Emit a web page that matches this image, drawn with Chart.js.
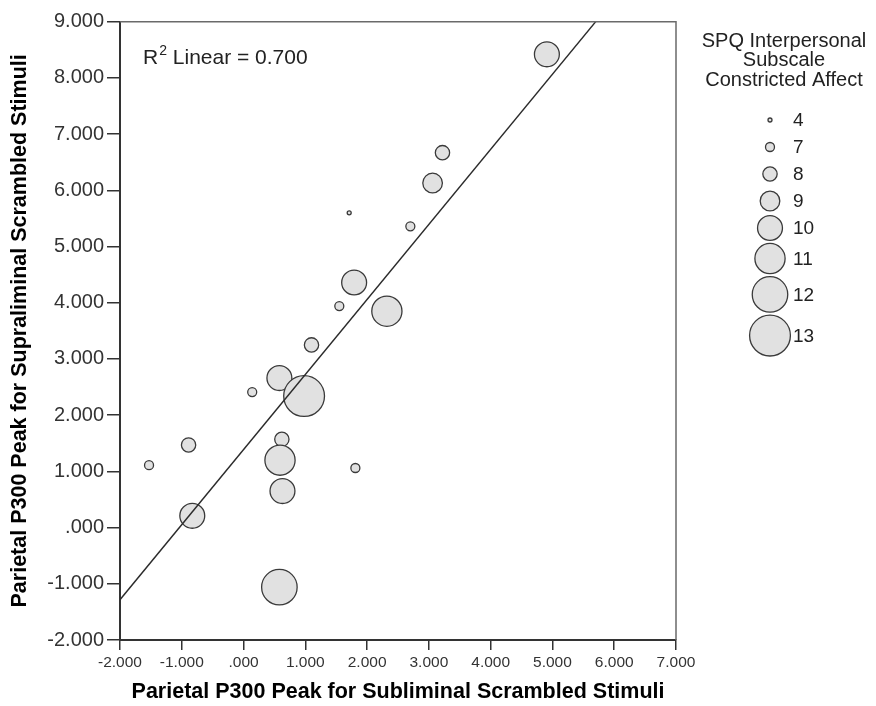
<!DOCTYPE html>
<html><head><meta charset="utf-8">
<script src="https://cdn.jsdelivr.net/npm/chart.js@4.4.0/dist/chart.umd.min.js"></script>
<style>html,body{margin:0;padding:0;background:#fff;}#wrap{width:876px;height:706px;position:relative;}</style>
</head><body><div id="wrap"><canvas id="c" width="876" height="706"></canvas></div>
<script>
// ---- data ----
const subliminal   = [1.71, 2.70, 3.06, 3.22, 1.79, 1.55, 2.32, 1.10, 0.58, 0.14, 0.98, -0.89, -1.53, 0.62, 0.59, 1.81, 0.63, -0.83, 0.58, 4.91];
const supraliminal = [5.60, 5.36, 6.13, 6.67, 4.36, 3.94, 3.85, 3.25, 2.66, 2.41, 2.34, 1.47, 1.11, 1.57, 1.20, 1.06, 0.65, 0.21, -1.06, 8.42];
const constrictedAffect = [4, 7, 9, 8, 10, 7, 11, 8, 10, 7, 13, 8, 7, 8, 11, 7, 10, 10, 12, 10];
const legendSizes = [4, 7, 8, 9, 10, 11, 12, 13];
const xTickLabels = ['-2.000','-1.000','.000','1.000','2.000','3.000','4.000','5.000','6.000','7.000'];
const yTickLabels = ['-2.000','-1.000','.000','1.000','2.000','3.000','4.000','5.000','6.000','7.000','8.000','9.000'];
const xRange = [-2, 7];
const yRange = [-2, 9];
const xTitle = 'Parietal P300 Peak for Subliminal Scrambled Stimuli';
const yTitle = 'Parietal P300 Peak for Supraliminal Scrambled Stimuli';
const legendTitle = ['SPQ Interpersonal', 'Subscale', 'Constricted Affect'];
const fitText = ['R', '2', ' Linear = 0.700'];

// ---- helpers ----
const FONT = '"Liberation Sans", Arial, Helvetica, sans-serif';
function radiusFor(s) { return Math.max(2, 2.65 * (s - 5.3)); }

// least-squares fit of the data
const n = subliminal.length;
const mx = subliminal.reduce((a, b) => a + b, 0) / n;
const my = supraliminal.reduce((a, b) => a + b, 0) / n;
let sxy = 0, sxx = 0;
for (let i = 0; i < n; i++) { sxy += (subliminal[i] - mx) * (supraliminal[i] - my); sxx += (subliminal[i] - mx) ** 2; }
const slope = sxy / sxx, intercept = my - slope * mx;
const fitPoints = xRange.map(x => ({ x: x, y: intercept + slope * x }));

const bubbles = subliminal.map((x, i) => ({ x: x, y: supraliminal[i], r: radiusFor(constrictedAffect[i]) }));

const decor = {
  id: 'decor',
  afterDraw(chart) {
    const ctx = chart.ctx, a = chart.chartArea;
    ctx.save();
    // top & right frame
    ctx.strokeStyle = '#6a6a6a'; ctx.lineWidth = 1.5;
    ctx.beginPath(); ctx.moveTo(a.left, a.top); ctx.lineTo(a.right, a.top); ctx.lineTo(a.right, a.bottom); ctx.stroke();
    // R² label
    ctx.fillStyle = '#222'; ctx.textBaseline = 'alphabetic'; ctx.textAlign = 'left';
    let x = 143, y = 64;
    ctx.font = '21px ' + FONT; ctx.fillText(fitText[0], x, y); x += ctx.measureText(fitText[0]).width + 1;
    ctx.font = '14px ' + FONT; ctx.fillText(fitText[1], x, y - 9); x += ctx.measureText(fitText[1]).width;
    ctx.font = '21px ' + FONT; ctx.fillText(fitText[2], x, y);
    // legend title
    ctx.textAlign = 'center'; ctx.textBaseline = 'middle'; ctx.font = '20px ' + FONT;
    legendTitle.forEach((t, i) => ctx.fillText(t, 784, 41 + i * 19.5));
    // legend symbols
    let cy = 120, prevR = null;
    ctx.font = '19px ' + FONT; ctx.textAlign = 'left';
    legendSizes.forEach((s) => {
      const r = radiusFor(s);
      if (prevR !== null) cy += Math.max(27, prevR + r + 3);
      ctx.beginPath(); ctx.arc(770, cy, r, 0, Math.PI * 2);
      ctx.fillStyle = '#e1e1e1'; ctx.fill();
      ctx.strokeStyle = '#3a3a3a'; ctx.lineWidth = 1.3; ctx.stroke();
      ctx.fillStyle = '#222'; ctx.fillText(String(s), 793, cy + 1);
      prevR = r;
    });
    ctx.restore();
  }
};

new Chart(document.getElementById('c'), {
  type: 'bubble',
  data: {
    datasets: [
      { type: 'line', data: fitPoints, borderColor: '#2b2b2b', borderWidth: 1.4, pointRadius: 0, fill: false, order: 0, clip: 0 },
      { type: 'bubble', data: bubbles, backgroundColor: '#e1e1e1', borderColor: '#3a3a3a', borderWidth: 1.3, order: 1, hoverRadius: 0 }
    ]
  },
  options: {
    responsive: false, animation: false, devicePixelRatio: 1,
    events: [],
    layout: { padding: { top: 19, right: 200, left: 0, bottom: 0 } },
    plugins: { legend: { display: false }, tooltip: { enabled: false } },
    scales: {
      x: {
        type: 'linear', min: xRange[0], max: xRange[1],
        afterFit(scale) { scale.height = 66; },
        border: { display: true, color: '#333', width: 2 },
        grid: { display: true, drawOnChartArea: false, drawTicks: true, tickLength: 10, color: '#333', lineWidth: 1.5 },
        ticks: { stepSize: 1, padding: 3, color: '#333', font: { family: FONT, size: 15.5 }, maxRotation: 0, autoSkip: false,
          callback: (v, i) => xTickLabels[i] },
        title: { display: true, text: xTitle, color: '#000', font: { family: FONT, size: 21.5, weight: 'bold' }, padding: { top: 0, bottom: 1 } }
      },
      y: {
        type: 'linear', min: yRange[0], max: yRange[1],
        afterFit(scale) { scale.width = 120; },
        border: { display: true, color: '#333', width: 2 },
        grid: { display: true, drawOnChartArea: false, drawTicks: true, tickLength: 13, color: '#333', lineWidth: 1.5 },
        ticks: { stepSize: 1, padding: 3, color: '#333', font: { family: FONT, size: 20 }, autoSkip: false,
          callback: (v, i) => yTickLabels[i] },
        title: { display: true, text: yTitle, color: '#000', font: { family: FONT, size: 21.5, weight: 'bold' }, padding: { top: 7, bottom: 0 } }
      }
    }
  },
  plugins: [decor]
});
</script></body></html>
